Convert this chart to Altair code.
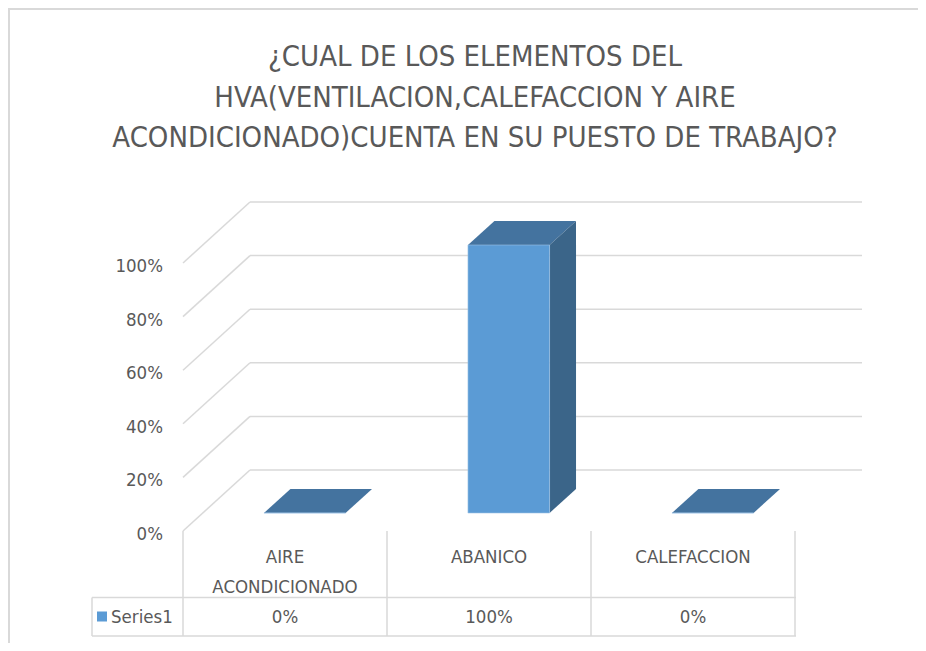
import altair as alt
import pandas as pd

# ---------------- data ----------------
categories = ["AIRE ACONDICIONADO", "ABANICO", "CALEFACCION"]
values = [0.0, 1.0, 0.0]          # Series1 (share)
series_name = "Series1"
y_ticks = [0, 20, 40, 60, 80, 100]  # percent
title_lines = [
    "¿CUAL DE LOS ELEMENTOS DEL",
    "HVA(VENTILACION,CALEFACCION  Y AIRE",
    "ACONDICIONADO)CUENTA EN SU PUESTO DE TRABAJO?",
]

# ---------------- layout (pixels) ----------------
FONT = "Liberation Sans Narrow, DejaVu Sans Condensed, Liberation Sans, sans-serif"
TXT = "#595959"
GRID = "#D9D9D9"
FRONT = "#5B9BD5"
TOP = "#44739F"
SIDE = "#3B6589"
FS = 18.5                        # label font size
TFS = 29                         # title font size

PAGE_L, PAGE_T = 8, 8            # page position of the drawing area
W, H = 910, 635
CAT_W = 204.0                    # px per category
C0_X = 285.0                     # page x of first category centre (front plane)
Y0 = 531.0                       # page y of 0% (front plane)
PX_PCT = 2.68                    # px per percent
DEP_DX, DEP_DY = 67.0, 61.0      # depth offset of the back wall
Z_FRONT, Z_BACK = 0.295, 0.69    # bar depth range
HALF = 0.2                       # half bar width (category units)

UD = DEP_DX / CAT_W
PD = DEP_DY / PX_PCT

x_dom = [(PAGE_L - C0_X) / CAT_W, (PAGE_L + W - C0_X) / CAT_W]
y_dom = [(Y0 - (PAGE_T + H)) / PX_PCT, (Y0 - PAGE_T) / PX_PCT]
xs = alt.Scale(domain=x_dom, nice=False, zero=False)
ys = alt.Scale(domain=y_dom, nice=False, zero=False)
X = lambda f: alt.X(f, type="quantitative", scale=xs, axis=None)
Y = lambda f: alt.Y(f, type="quantitative", scale=ys, axis=None)


def py(page_y):
    return page_y - PAGE_T


def px(page_x):
    return page_x - PAGE_L


# ---------------- derived tables ----------------
grid_rows = []
for t in y_ticks:
    grid_rows.append(dict(x=-0.5, x2=-0.5 + UD, y=t, y2=t + PD))
    grid_rows.append(dict(x=-0.5 + UD, x2=len(categories) - 0.5 + UD, y=t + PD, y2=t + PD))
grid_df = pd.DataFrame(grid_rows)

front_rows, top_rows, side_rows = [], [], []
for i, (c, v) in enumerate(zip(categories, values)):
    p = v * 100
    yf, yb = p + Z_FRONT * PD, p + Z_BACK * PD
    bf, bb = Z_FRONT * PD, Z_BACK * PD
    xfl, xfr = i - HALF + Z_FRONT * UD, i + HALF + Z_FRONT * UD
    xbl, xbr = i - HALF + Z_BACK * UD, i + HALF + Z_BACK * UD
    front_rows.append(dict(cat=c, x=xfl, x2=xfr, y=bf, y2=yf))
    top_rows += [
        dict(cat=c, x=xfl, y=yf, y2=yf),
        dict(cat=c, x=xbl, y=yb, y2=yf),
        dict(cat=c, x=xfr, y=yb, y2=yf),
        dict(cat=c, x=xbr, y=yb, y2=yb),
    ]
    side_rows += [
        dict(cat=c, x=xfr, y=yf, y2=bf),
        dict(cat=c, x=xbr, y=yb, y2=bb),
    ]
front_df = pd.DataFrame(front_rows)
top_df = pd.DataFrame(top_rows)
side_df = pd.DataFrame(side_rows)

tick_df = pd.DataFrame({"x": [-0.5] * len(y_ticks), "y": y_ticks,
                        "label": [f"{t}%" for t in y_ticks]})
cat_df = pd.DataFrame({"x": list(range(len(categories))), "cat": categories, "v": values})
col_df = pd.DataFrame({"x": [i - 0.5 for i in range(len(categories) + 1)]})
one = pd.DataFrame({"a": [0]})

# ---------------- layers ----------------
title = alt.Chart(one).mark_text(
    text=title_lines, align="center", baseline="top", lineHeight=40.5,
    font=FONT, fontSize=TFS, color=TXT
).encode(x=alt.value(px(475)), y=alt.value(py(43)))

grid = alt.Chart(grid_df).mark_rule(color=GRID, strokeWidth=1.5).encode(
    x=X("x"), x2="x2", y=Y("y"), y2="y2")

ticks = alt.Chart(tick_df).mark_text(
    align="right", baseline="alphabetic", dx=-20, dy=9, font=FONT, fontSize=FS, color=TXT
).encode(x=X("x"), y=Y("y"), text="label:N")

top = alt.Chart(top_df).mark_area(color=TOP, orient="vertical").encode(
    x=X("x"), y=Y("y"), y2="y2", detail="cat:N")
side = alt.Chart(side_df).mark_area(color=SIDE, orient="vertical").encode(
    x=X("x"), y=Y("y"), y2="y2", detail="cat:N")
front = alt.Chart(front_df).mark_rect(color=FRONT, stroke="#9DC3E6", strokeWidth=0.6).encode(
    x=X("x"), x2="x2", y=Y("y"), y2="y2")

# data table
col_lines = alt.Chart(col_df).mark_rule(color=GRID, strokeWidth=1.5).encode(
    x=X("x"), y=alt.value(py(531)), y2=alt.value(py(636)))
row_lines = alt.Chart(pd.DataFrame({"yy": [py(597.5), py(636)]})).mark_rule(
    color=GRID, strokeWidth=1.5).encode(
    x=alt.value(px(92)), x2=alt.value(px(796)), y=alt.Y("yy:Q", scale=None))
leg_left = alt.Chart(one).mark_rule(color=GRID, strokeWidth=1.5).encode(
    x=alt.value(px(92)), y=alt.value(py(597.5)), y2=alt.value(py(636)))

cat_labels = alt.Chart(cat_df).mark_text(
    baseline="top", align="center", lineBreak=" ", lineHeight=30,
    font=FONT, fontSize=FS, color=TXT
).encode(x=X("x"), y=alt.value(py(548)), text="cat:N")

val_labels = alt.Chart(cat_df).mark_text(
    baseline="alphabetic", align="center", font=FONT, fontSize=FS, color=TXT
).encode(x=X("x"), y=alt.value(py(623)), text=alt.Text("v:Q", format=".0%"))

leg_sq = alt.Chart(pd.DataFrame({"s": [series_name]})).mark_square(
    color=FRONT, size=100, opacity=1).encode(x=alt.value(px(102)), y=alt.value(py(616.5)))
leg_txt = alt.Chart(pd.DataFrame({"s": [series_name]})).mark_text(
    align="left", baseline="alphabetic", font=FONT, fontSize=FS, color=TXT
).encode(x=alt.value(px(111)), y=alt.value(py(623)), text="s:N")

# chart frame (top and left edges)
frame_top = alt.Chart(one).mark_rule(color=GRID, strokeWidth=2).encode(
    x=alt.value(0), x2=alt.value(W), y=alt.value(1))
frame_left = alt.Chart(one).mark_rule(color=GRID, strokeWidth=2).encode(
    x=alt.value(1), y=alt.value(0), y2=alt.value(H))

chart = alt.layer(
    frame_top, frame_left, title, grid, ticks, top, side, front,
    col_lines, row_lines, leg_left, cat_labels, val_labels, leg_sq, leg_txt,
).properties(
    width=W, height=H,
    autosize=alt.AutoSizeParams(type="none"),
    padding=0,
).configure_view(strokeWidth=0, strokeOpacity=0).configure(background="white")

chart.save("out.html", embed_options={"renderer": "svg", "actions": False})
